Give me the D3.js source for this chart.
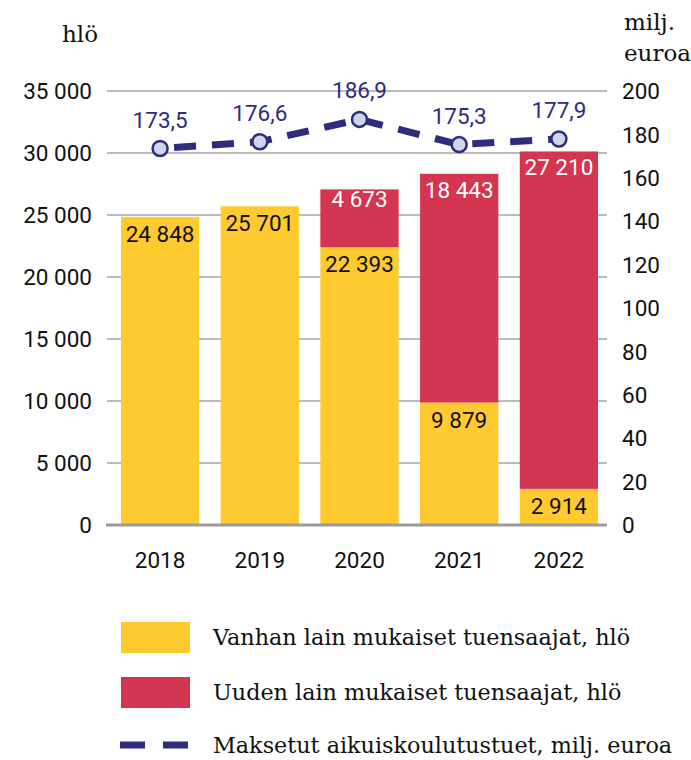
<!DOCTYPE html>
<html>
<head>
<meta charset="utf-8">
<script src="https://cdn.jsdelivr.net/npm/d3@7"></script>
<style>
  body { margin: 0; background: #fff; }
  text { font-family: Roboto, sans-serif; }
  .serif { font-family: "DejaVu Serif", serif; }
</style>
</head>
<body>
<div id="chart"></div>
<script>
// Chart data
const years = ['2018', '2019', '2020', '2021', '2022'];
const oldLaw = [24848, 25701, 22393, 9879, 2914];
const newLaw = [0, 0, 4673, 18443, 27210];
const paid = [173.5, 176.6, 186.9, 175.3, 177.9];
const leftTicks = [0, 5000, 10000, 15000, 20000, 25000, 30000, 35000];
const rightTicks = [0, 20, 40, 60, 80, 100, 120, 140, 160, 180, 200];
const legendLabels = [
    'Vanhan lain mukaiset tuensaajat, hlö',
    'Uuden lain mukaiset tuensaajat, hlö',
    'Maksetut aikuiskoulutustuet, milj. euroa'
];

const yellow = '#FFC930';
const red = '#D43551';
const navy = '#2F2B7F';

const fmt = v => d3.format(',')(v).replace(/,/g, ' ');
const fmtDec = v => d3.format('.1f')(v).replace('.', ',');

const width = 691, height = 760;
const svg = d3.select('#chart').append('svg')
    .attr('width', width)
    .attr('height', height);

// Scales
const x = d3.scaleBand()
    .domain(years)
    .range([111, 608])
    .paddingInner(0.215)
    .paddingOuter(0.1);

const yLeft = d3.scaleLinear().domain([0, 35000]).range([525, 91]);
const yRight = d3.scaleLinear().domain([0, 200]).range([525, 91]);

// Gridlines
svg.append('g')
    .selectAll('line')
    .data(leftTicks.filter(d => d > 0))
    .enter()
    .append('line')
    .attr('x1', 107)
    .attr('x2', 607)
    .attr('y1', d => yLeft(d))
    .attr('y2', d => yLeft(d))
    .attr('stroke', '#a6a6a6')
    .attr('stroke-width', 1.5);

// Left axis labels
svg.append('g')
    .selectAll('text')
    .data(leftTicks)
    .enter()
    .append('text')
    .attr('x', 92)
    .attr('y', d => yLeft(d))
    .attr('dy', '0.36em')
    .attr('text-anchor', 'end')
    .attr('font-size', 22.5)
    .attr('fill', '#111')
    .text(d => fmt(d));

// Right axis labels
svg.append('g')
    .selectAll('text')
    .data(rightTicks)
    .enter()
    .append('text')
    .attr('x', 622)
    .attr('y', d => yRight(d))
    .attr('dy', '0.36em')
    .attr('font-size', 22.5)
    .attr('fill', '#111')
    .text(d => d);

// Axis titles
svg.append('text').attr('class', 'serif')
    .attr('x', 98).attr('y', 42)
    .attr('text-anchor', 'end')
    .attr('font-size', 23).attr('fill', '#111')
    .text('hlö');
svg.append('text').attr('class', 'serif')
    .attr('x', 624).attr('y', 30)
    .attr('font-size', 23).attr('fill', '#111')
    .text('milj.');
svg.append('text').attr('class', 'serif')
    .attr('x', 624).attr('y', 61)
    .attr('font-size', 23).attr('fill', '#111')
    .text('euroa');

// Stacked bars
const bars = svg.selectAll('.bar')
    .data(years.map((y, i) => ({ year: y, old: oldLaw[i], neu: newLaw[i] })))
    .enter()
    .append('g')
    .attr('class', 'bar')
    .attr('transform', d => `translate(${x(d.year)},0)`);

bars.append('rect')
    .attr('x', 0)
    .attr('width', x.bandwidth())
    .attr('y', d => yLeft(d.old))
    .attr('height', d => yLeft(0) - yLeft(d.old))
    .attr('fill', yellow);

bars.filter(d => d.neu > 0).append('rect')
    .attr('x', 0)
    .attr('width', x.bandwidth())
    .attr('y', d => yLeft(d.old + d.neu))
    .attr('height', d => yLeft(d.old) - yLeft(d.old + d.neu))
    .attr('fill', red);

bars.append('text')
    .attr('x', x.bandwidth() / 2)
    .attr('y', d => yLeft(d.old) + 25)
    .attr('text-anchor', 'middle')
    .attr('font-size', 22.5)
    .attr('fill', '#111')
    .text(d => fmt(d.old));

bars.filter(d => d.neu > 0).append('text')
    .attr('x', x.bandwidth() / 2)
    .attr('y', d => yLeft(d.old + d.neu) + (d.neu < 6000 ? 18 : 24))
    .attr('text-anchor', 'middle')
    .attr('font-size', 22.5)
    .attr('fill', '#fff')
    .text(d => fmt(d.neu));

// Baseline
svg.append('line')
    .attr('x1', 106).attr('x2', 607)
    .attr('y1', yLeft(0)).attr('y2', yLeft(0))
    .attr('stroke', '#9a9a9a')
    .attr('stroke-width', 3);

// Year labels
svg.append('g')
    .selectAll('text')
    .data(years)
    .enter()
    .append('text')
    .attr('x', d => x(d) + x.bandwidth() / 2)
    .attr('y', 568)
    .attr('text-anchor', 'middle')
    .attr('font-size', 22.5)
    .attr('fill', '#111')
    .text(d => d);

// Dashed line with markers
const lineData = years.map((y, i) => ({ year: y, v: paid[i] }));
const line = d3.line()
    .x(d => x(d.year) + x.bandwidth() / 2)
    .y(d => yRight(d.v));

svg.append('path')
    .datum(lineData)
    .attr('d', line)
    .attr('fill', 'none')
    .attr('stroke', navy)
    .attr('stroke-width', 7)
    .attr('stroke-dasharray', '22,16')
    .attr('stroke-dashoffset', -14);

svg.append('g')
    .selectAll('circle')
    .data(lineData)
    .enter()
    .append('circle')
    .attr('cx', d => x(d.year) + x.bandwidth() / 2)
    .attr('cy', d => yRight(d.v))
    .attr('r', 7.5)
    .attr('fill', '#CDD7EC')
    .attr('stroke', navy)
    .attr('stroke-width', 2.5);

svg.append('g')
    .selectAll('text')
    .data(lineData)
    .enter()
    .append('text')
    .attr('x', d => x(d.year) + x.bandwidth() / 2)
    .attr('y', d => yRight(d.v) - 21)
    .attr('text-anchor', 'middle')
    .attr('font-size', 22.5)
    .attr('fill', navy)
    .text(d => fmtDec(d.v));

// Legend
const legend = svg.append('g');
const legendY = [637, 692, 745];

legend.append('rect')
    .attr('x', 121).attr('y', legendY[0] - 15)
    .attr('width', 69).attr('height', 31)
    .attr('fill', yellow);
legend.append('rect')
    .attr('x', 121).attr('y', legendY[1] - 15)
    .attr('width', 69).attr('height', 31)
    .attr('fill', red);
legend.append('line')
    .attr('x1', 120).attr('x2', 190)
    .attr('y1', legendY[2]).attr('y2', legendY[2])
    .attr('stroke', navy)
    .attr('stroke-width', 7)
    .attr('stroke-dasharray', '25,18');

legend.selectAll('text')
    .data(legendLabels)
    .enter()
    .append('text')
    .attr('class', 'serif')
    .attr('x', 213)
    .attr('y', (d, i) => legendY[i])
    .attr('dy', '0.36em')
    .attr('font-size', 22.3)
    .attr('fill', '#111')
    .text(d => d);
</script>
</body>
</html>
